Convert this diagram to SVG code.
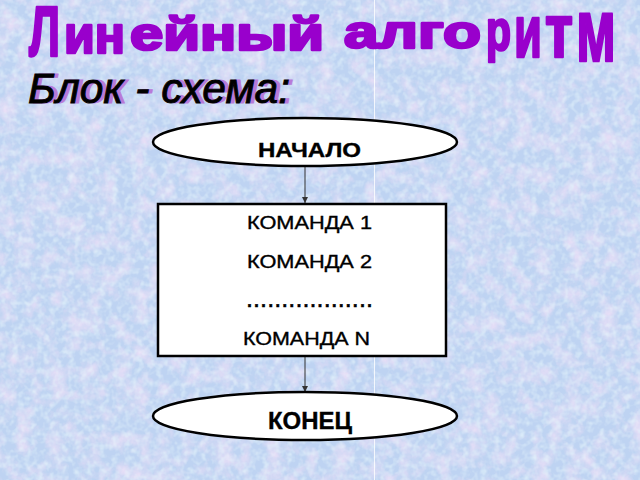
<svg xmlns="http://www.w3.org/2000/svg" width="640" height="480" viewBox="0 0 640 480">
<style>
.title{font-family:"Liberation Sans",Arial,sans-serif;font-weight:bold;fill:#9900cc;stroke:#9900cc;stroke-width:2.6px;stroke-linejoin:round}
.sub{font-family:"Liberation Sans",Arial,sans-serif;font-size:43px;font-style:italic}
.node{fill:#ffffff;stroke:#000000;stroke-width:2.5}
.lbl{font-family:"Liberation Sans",Arial,sans-serif;fill:#000000;stroke:#000000;stroke-width:0.35;text-anchor:start}
.conn{stroke:#333333;stroke-width:1;fill:none}
</style>
<defs>
<filter id="tex" x="0" y="0" width="640" height="480" filterUnits="userSpaceOnUse">
<feTurbulence type="fractalNoise" baseFrequency="0.06" numOctaves="4" seed="3" result="n"/>
<feColorMatrix in="n" type="matrix" values="0 0 0 0 0.88  0 0 0 0 0.76  0 0 0 0 0.94  1.6 0 0 0 -0.65" result="pink"/>
<feTurbulence type="fractalNoise" baseFrequency="0.16" numOctaves="2" seed="9" result="n2"/>
<feColorMatrix in="n2" type="matrix" values="0 0 0 0 0.80  0 0 0 0 0.93  0 0 0 0 0.98  1.3 0 0 0 -0.55" result="light"/>
<feMerge><feMergeNode in="SourceGraphic"/><feMergeNode in="pink"/><feMergeNode in="light"/></feMerge>
</filter>
<marker id="arr" viewBox="0 0 10 10" refX="10" refY="5" markerWidth="6" markerHeight="6" markerUnits="userSpaceOnUse" orient="auto">
<path d="M0,0 L10,5 L0,10 z" fill="#333333"/>
</marker>
</defs>

<rect x="0" y="0" width="640" height="480" fill="#bed3f2" filter="url(#tex)"/>
<line x1="374.5" y1="0" x2="374.5" y2="480" stroke="#ffffff" stroke-opacity="0.8" stroke-width="1"/>

<g id="title">
<text class="title" x="29" y="56" font-size="71" textLength="31" lengthAdjust="spacingAndGlyphs">Л</text>
<text class="title" x="64" y="53" font-size="53" textLength="61" lengthAdjust="spacingAndGlyphs">ин</text>
<text class="title" x="130" y="50" font-size="47" textLength="194" lengthAdjust="spacingAndGlyphs">ейный</text>
<text class="title" x="344" y="48" font-size="47" textLength="137" lengthAdjust="spacingAndGlyphs">алго</text>
<text class="title" x="486" y="50" font-size="57" textLength="25" lengthAdjust="spacingAndGlyphs">р</text>
<text class="title" x="514" y="57" font-size="74" textLength="28" lengthAdjust="spacingAndGlyphs">и</text>
<text class="title" x="545" y="57" font-size="76" textLength="28" lengthAdjust="spacingAndGlyphs">т</text>
<text class="title" x="576" y="61" font-size="89" textLength="40" lengthAdjust="spacingAndGlyphs">м</text>
</g>

<g id="subtitle">
<text class="sub" x="32" y="103" fill="#b77ad8" stroke="#b77ad8" stroke-width="0.8" font-style="normal" textLength="262" lengthAdjust="spacingAndGlyphs">Блок - схема:</text>
<text class="sub" x="28" y="103" fill="#000000" stroke="#000000" stroke-width="0.9" textLength="262" lengthAdjust="spacingAndGlyphs">Блок - схема:</text>
</g>

<g id="connectors">
<line class="conn" x1="305" y1="167" x2="305" y2="203" marker-end="url(#arr)"/>
<line class="conn" x1="305" y1="357" x2="305" y2="392" marker-end="url(#arr)"/>
</g>

<g id="start">
<ellipse class="node" cx="305" cy="142" rx="152" ry="24"/>
<text class="lbl" x="258" y="157" font-size="20" font-weight="bold" textLength="103" lengthAdjust="spacingAndGlyphs">НАЧАЛО</text>
</g>

<g id="commands">
<rect class="node" x="158" y="204" width="288" height="152" stroke-width="2"/>
<text class="lbl" x="247" y="229" font-size="18" textLength="125" lengthAdjust="spacingAndGlyphs">КОМАНДА 1</text>
<text class="lbl" x="247" y="268" font-size="18" textLength="125" lengthAdjust="spacingAndGlyphs">КОМАНДА 2</text>
<text class="lbl" x="247" y="307" font-size="18" font-weight="bold" stroke-width="0" textLength="125" lengthAdjust="spacing">..................</text>
<text class="lbl" x="243" y="345" font-size="18" textLength="127" lengthAdjust="spacingAndGlyphs">КОМАНДА N</text>
</g>

<g id="end">
<ellipse class="node" cx="305" cy="416" rx="152" ry="24"/>
<text class="lbl" x="268" y="429" font-size="23" font-weight="bold" textLength="84" lengthAdjust="spacingAndGlyphs">КОНЕЦ</text>
</g>
</svg>
